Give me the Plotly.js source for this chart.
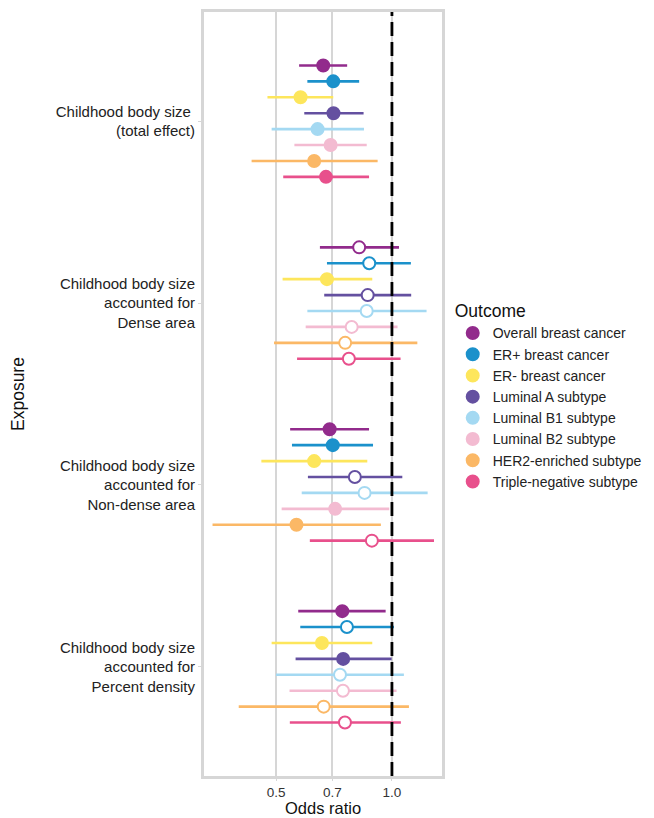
<!DOCTYPE html>
<html>
<head>
<meta charset="utf-8">
<script src="https://cdn.plot.ly/plotly-3.0.1.min.js"></script>
<style>html,body{margin:0;padding:0;background:#fff;}</style>
</head>
<body>
<div id="chart" style="width:654px;height:818px;"></div>
<script>
// Exposure categories (top to bottom)
const exposures = [
  "Childhood body size <br>(total effect)",
  "Childhood body size<br>accounted for<br>Dense area",
  "Childhood body size<br>accounted for<br>Non-dense area",
  "Childhood body size<br>accounted for<br>Percent density"
];
// Outcomes (legend order, top to bottom within each group)
const outcomes = ["Overall breast cancer","ER+ breast cancer","ER- breast cancer","Luminal A subtype",
  "Luminal B1 subtype","Luminal B2 subtype","HER2-enriched subtype","Triple-negative subtype"];
const colors = ["#922b8c","#1b91cb","#fde65c","#6450a0","#a4d9f2","#f3bbd1","#fbb866","#e8508c"];

// Odds ratios per outcome, across the 4 exposures
const orOverall = [0.663,0.822,0.689,0.743];
const orERpos   = [0.704,0.873,0.702,0.764];
const orERneg   = [0.579,0.678,0.628,0.658];
const orLumA    = [0.705,0.865,0.801,0.747];
const orLumB1   = [0.641,0.860,0.849,0.733];
const orLumB2   = [0.693,0.786,0.712,0.746];
const orHER2    = [0.628,0.756,0.565,0.665];
const orTN      = [0.674,0.773,0.887,0.755];

const loOverall = [0.574,0.650,0.544,0.571];
const loERpos   = [0.603,0.678,0.550,0.578];
const loERneg   = [0.475,0.520,0.458,0.487];
const loLumA    = [0.592,0.667,0.605,0.562];
const loLumB1   = [0.487,0.603,0.583,0.500];
const loLumB2   = [0.558,0.597,0.517,0.542];
const loHER2    = [0.432,0.494,0.342,0.400];
const loTN      = [0.522,0.567,0.612,0.543];

const hiOverall = [0.765,1.043,0.872,0.963];
const hiERpos   = [0.822,1.120,0.893,1.012];
const hiERneg   = [0.704,0.889,0.863,0.889];
const hiLumA    = [0.844,1.122,1.064,0.998];
const hiLumB1   = [0.846,1.230,1.238,1.074];
const hiLumB2   = [0.860,1.034,0.984,1.028];
const hiHER2    = [0.918,1.164,0.936,1.107];
const hiTN      = [0.872,1.053,1.286,1.055];

// Significant (filled marker) flags
const sigOverall = [1,0,1,1];
const sigERpos   = [1,0,1,0];
const sigERneg   = [1,1,1,1];
const sigLumA    = [1,0,0,1];
const sigLumB1   = [1,0,0,0];
const sigLumB2   = [1,0,1,0];
const sigHER2    = [1,0,1,0];
const sigTN      = [1,0,0,0];

const ors = [orOverall,orERpos,orERneg,orLumA,orLumB1,orLumB2,orHER2,orTN];
const los = [loOverall,loERpos,loERneg,loLumA,loLumB1,loLumB2,loHER2,loTN];
const his = [hiOverall,hiERpos,hiERneg,hiLumA,hiLumB1,hiLumB2,hiHER2,hiTN];
const sigs = [sigOverall,sigERpos,sigERneg,sigLumA,sigLumB1,sigLumB2,sigHER2,sigTN];

const dodge = 0.7;
const n = outcomes.length;
const traces = outcomes.map((name, i) => {
  const off = (i - (n - 1) / 2) * dodge / n;
  const y = exposures.map((_, g) => g + 1 + off);
  const x = ors[i];
  return {
    type: "scatter", mode: "markers", name: name,
    x: x, y: y,
    error_x: {
      type: "data", symmetric: false,
      array: x.map((v, k) => his[i][k] - v),
      arrayminus: x.map((v, k) => v - los[i][k]),
      color: colors[i], thickness: 2.6, width: 0
    },
    marker: {
      symbol: "circle", size: 12,
      color: sigs[i].map(s => s ? colors[i] : "#ffffff"),
      line: {color: colors[i], width: 2}
    },
    hoverinfo: "x+name"
  };
});

const layout = {
  width: 654, height: 818,
  margin: {l: 204, r: 212, t: 12, b: 42, autoexpand: false},
  paper_bgcolor: "#ffffff", plot_bgcolor: "#ffffff",
  font: {family: "Liberation Sans, Arial, sans-serif", color: "#1a1a1a"},
  showlegend: true,
  xaxis: {
    type: "log",
    range: [Math.log10(0.325), Math.log10(1.349)],
    tickvals: [0.5, 0.7, 1.0], ticktext: ["0.5", "0.7", "1.0"],
    showgrid: true, gridcolor: "#d6d6d6", gridwidth: 2.2,
    zeroline: false,
    showline: true, mirror: true, linecolor: "#d6d6d6", linewidth: 3,
    ticks: "outside", ticklen: 2, tickcolor: "#d6d6d6", tickwidth: 1,
    tickfont: {size: 13.5, color: "#333333"}
  },
  yaxis: {
    range: [4.6, 0.4],
    tickvals: [1, 2, 3, 4], ticktext: exposures,
    showgrid: false, zeroline: false,
    showline: true, mirror: true, linecolor: "#d6d6d6", linewidth: 3,
    ticks: "outside", ticklen: 3, tickcolor: "#d6d6d6", tickwidth: 1,
    tickfont: {size: 15, color: "#222222"}
  },
  annotations: [{
    text: "Exposure", xref: "paper", yref: "paper",
    x: (18 - 204) / 238, y: 0.5, xanchor: "center", yanchor: "middle",
    textangle: -90, showarrow: false,
    font: {size: 17.5, color: "#111111"}
  }, {
    text: "Odds ratio", xref: "paper", yref: "paper",
    x: 0.5, y: (776 - 818) / 764, xanchor: "center", yanchor: "bottom",
    showarrow: false, borderpad: 0,
    font: {size: 16.5, color: "#111111"}
  }],
  shapes: [{
    type: "line", xref: "x", yref: "paper", x0: 1, x1: 1, y0: 0, y1: 1,
    line: {color: "#000000", width: 2.8, dash: "14px,6px"}
  }],
  legend: {
    x: 1.045, xanchor: "left", y: 0.63, yanchor: "top",
    title: {text: "Outcome", font: {size: 17.5, color: "#111111"}},
    font: {size: 14, color: "#222222"},
    itemsizing: "constant", tracegroupgap: 0
  }
};

Plotly.newPlot("chart", traces, layout, {displayModeBar: false, staticPlot: true});
</script>
</body>
</html>
